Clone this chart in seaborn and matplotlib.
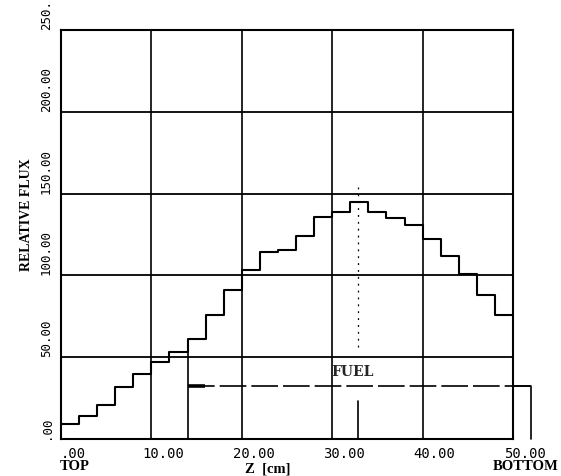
import matplotlib
matplotlib.use("Agg")
import matplotlib.pyplot as plt
import matplotlib.transforms as mtransforms
import numpy as np
import pandas as pd
import seaborn as sns

# Axial flux profile in 2-cm zones, from the top (0 cm) to the bottom (50 cm)
zone_edges_cm = [0, 2, 4, 6, 8, 10, 12, 14, 16, 18, 20, 22, 24,
                 26, 28, 30, 32, 34, 36, 38, 40, 42, 44, 46, 48, 50]
relative_flux = [9, 14, 21, 32, 40, 47, 53, 61, 76, 91, 103, 114, 115.5,
                 124, 136, 139, 145, 139, 135, 131, 122, 112, 101, 88, 76]

x_ticks = [0, 10, 20, 30, 40, 50]
x_tick_labels = [".00", "10.00", "20.00", "30.00", "40.00", "50.00"]
y_ticks = [0, 50, 100, 150, 200, 250]
y_tick_labels = [".00", "50.00", "100.00", "150.00", "200.00", "250."]

# Fuel region bracket and core mid-plane marker
fuel_start_cm = 14
fuel_end_cm = 52
fuel_level = 32.4
midplane_cm = 32.8
midplane_stub_top = 23
midplane_dots = [56, 155]

sns.set_style("white")
plt.rcParams["font.family"] = ["DejaVu Sans Mono", "DejaVu Sans"]

fig = plt.figure(figsize=(5.61, 4.76), dpi=100)
ax = fig.add_axes([61 / 561, 1 - 439 / 476, 452 / 561, 409 / 476])

df = pd.DataFrame({
    "z": zone_edges_cm,
    "flux": relative_flux + [relative_flux[-1]],
})
sns.lineplot(data=df, x="z", y="flux", drawstyle="steps-post", color="black",
             linewidth=1.5, estimator=None, legend=False, ax=ax)

ax.set_xlim(0, 50)
ax.set_ylim(0, 250)

# grid
for xv in x_ticks[1:-1]:
    ax.axvline(xv, color="black", linewidth=1.2, zorder=1)
for yv in y_ticks[1:-1]:
    ax.axhline(yv, color="black", linewidth=1.3, zorder=1)
for sp in ax.spines.values():
    sp.set_color("black")
    sp.set_linewidth(1.5)

# fuel bracket
ax.plot([fuel_start_cm, fuel_start_cm], [0, relative_flux[6]], color="black", linewidth=1.2)
ax.plot([fuel_start_cm, fuel_end_cm], [fuel_level, fuel_level], color="black",
        linewidth=1.2, dashes=(16, 3), clip_on=False)
ax.plot([fuel_start_cm, fuel_start_cm + 1.9], [fuel_level, fuel_level], color="black",
        linewidth=2.6, solid_capstyle="butt")
ax.plot([50, fuel_end_cm, fuel_end_cm], [fuel_level, fuel_level, 0], color="black",
        linewidth=1.2, clip_on=False)
ax.text(32.2, 41, "FUEL", ha="center", va="center", fontsize=10,
        fontweight="bold", family=["DejaVu Serif"])

# mid-plane marker
ax.plot([midplane_cm, midplane_cm], [0, midplane_stub_top], color="black", linewidth=1.2)
ax.plot([midplane_cm, midplane_cm], midplane_dots, color="black", linewidth=0.9,
        linestyle=(0, (1.5, 4)))

# ticks
ax.set_xticks(x_ticks)
ax.set_xticklabels(x_tick_labels, fontsize=10)
ax.set_yticks(y_ticks)
ax.set_yticklabels(y_tick_labels, fontsize=9, rotation=90, va="bottom")
ax.tick_params(axis="both", length=0, colors="black")
ax.tick_params(axis="x", pad=6)
ax.tick_params(axis="y", pad=6)
shift = mtransforms.ScaledTranslation(12 / 100, 0, fig.dpi_scale_trans)
for lab in ax.get_xticklabels():
    lab.set_transform(lab.get_transform() + shift)

ax.set_xlabel("")
ax.set_ylabel("")

serif_bold = dict(family=["Liberation Serif", "DejaVu Serif"], fontweight="bold", color="black")
fig.text(27 / 561, 1 - 215 / 476, "RELATIVE FLUX", rotation=90, ha="center",
         va="center", fontsize=10, **serif_bold)
fig.text(75 / 561, 1 - 467 / 476, "TOP", ha="center", va="center", fontsize=10.5, **serif_bold)
fig.text(526 / 561, 1 - 467 / 476, "BOTTOM", ha="center", va="center", fontsize=10.5, **serif_bold)
fig.text(268 / 561, 1 - 469 / 476, "Z  [cm]", ha="center", va="center", fontsize=10.5, **serif_bold)

fig.savefig("out.png", dpi=100, facecolor="white")
